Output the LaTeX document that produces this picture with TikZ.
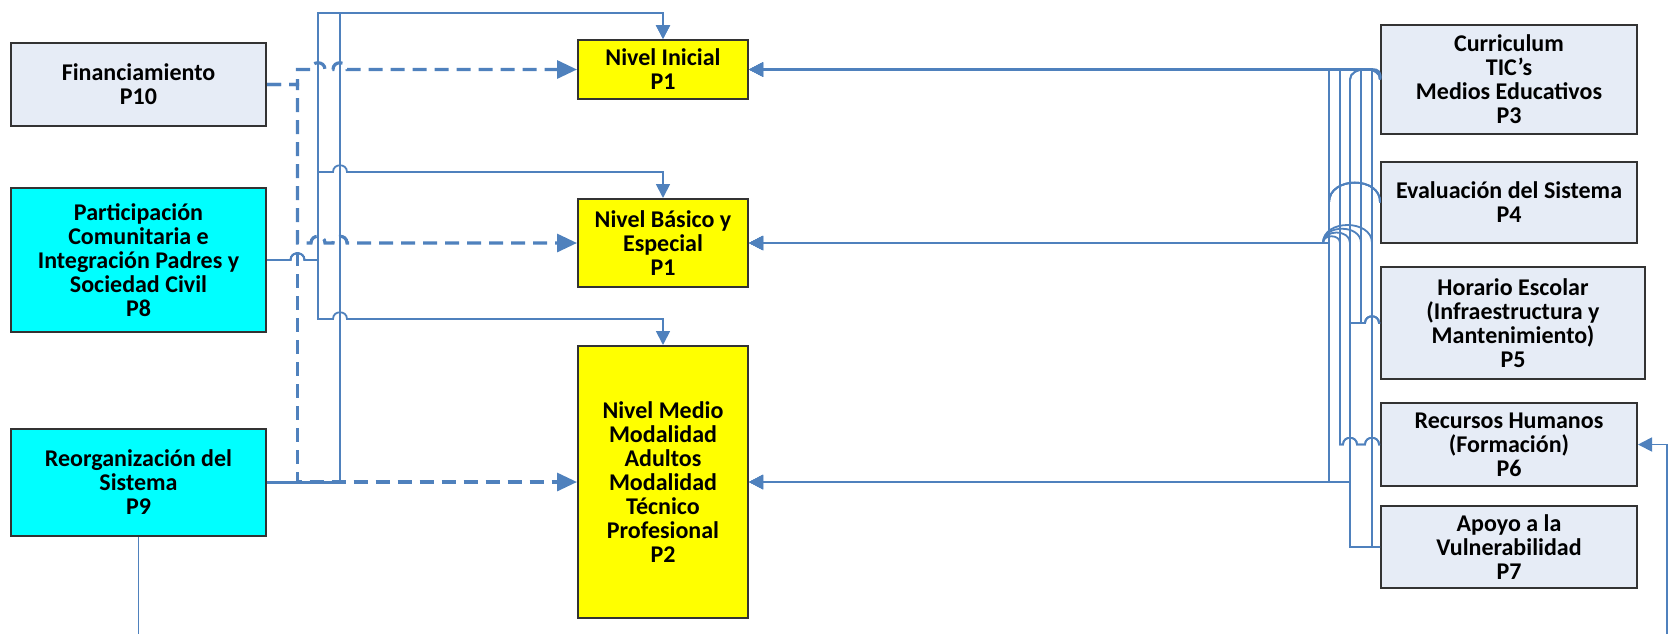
\documentclass[tikz,border=0pt]{standalone}
\usepackage{fontspec}
\setmainfont{Carlito}
\usetikzlibrary{arrows.meta}

\newcommand\hopR[2]{-- (#1-7,#2) .. controls (#1-7,#2-9) and (#1+7,#2-9) .. (#1+7,#2)}
\newcommand\hopL[2]{-- (#1+7,#2) .. controls (#1+7,#2-9) and (#1-7,#2-9) .. (#1-7,#2)}

\begin{document}
\begin{tikzpicture}[x=0.5pt,y=-0.5pt,
  box/.style={draw=black!80,line width=1pt,align=center,inner sep=0pt,
    font=\fontsize{12}{12}\selectfont\bfseries},
  greybox/.style={box,fill=boxgrey,minimum width=127.5pt},
  cyanbox/.style={box,fill=boxcyan,minimum width=127.5pt},
  yellowbox/.style={box,fill=boxyellow,minimum width=85pt},
  bus/.style={draw=linkblue,line width=0.9pt},
  link/.style={bus,-{Triangle[length=7pt,width=7pt]}},
  mainlink/.style={link,line width=1.4pt},
  dashlink/.style={draw=linkblue,line width=1.6pt,dash pattern=on 7pt off 4pt,
    -{Triangle[length=10pt,width=9pt]}}]
\definecolor{linkblue}{HTML}{4F81BD}
\definecolor{boxgrey}{HTML}{E6ECF6}
\definecolor{boxcyan}{HTML}{00FFFF}
\definecolor{boxyellow}{HTML}{FFFF00}
\useasboundingbox (0,0) rectangle (1672,634);

\node[greybox,minimum height=41.5pt] (fin) at (138.5,84.5) {Financiamiento\\P10};
\node[cyanbox,minimum height=72pt] (par) at (138.5,260) {Participación\\Comunitaria e\\Integración Padres y\\Sociedad Civil\\P8};
\node[cyanbox,minimum height=53.5pt] (reo) at (138.5,482.5) {Reorganización del\\Sistema\\P9};

\node[yellowbox,minimum height=29.5pt] (ini) at (663,69.5) {Nivel Inicial\\P1};
\node[yellowbox,minimum height=44pt] (bas) at (663,243) {Nivel Básico y\\Especial\\P1};
\node[yellowbox,minimum height=136pt] (med) at (663,482) {Nivel Medio\\Modalidad\\Adultos\\Modalidad\\Técnico\\Profesional\\P2};

\node[greybox,minimum width=128pt,minimum height=54.5pt] (cur) at (1509,79.5) {Curriculum\\TIC’s\\Medios Educativos\\P3};
\node[greybox,minimum width=128pt,minimum height=40.5pt] (eva) at (1509,202.5) {Evaluación del Sistema\\P4};
\node[greybox,minimum width=132pt,minimum height=56pt] (hor) at (1513,323) {Horario Escolar\\(Infraestructura y\\Mantenimiento)\\P5};
\node[greybox,minimum width=128pt,minimum height=41.5pt] (rec) at (1509,444.5) {Recursos Humanos\\(Formación)\\P6};
\node[greybox,minimum width=128pt,minimum height=41pt] (apo) at (1509,547) {Apoyo a la\\Vulnerabilidad\\P7};

\coordinate (cutL) at (138.5,634);
\coordinate (cutR) at (1667,634);

% left side
\draw[dashlink] (fin.east) -- (297.5,84.5) -- (297.5,69.5) \hopR{318}{69.5} \hopR{340}{69.5} -- (ini.west);
\draw[dashlink] (fin.east) -- (297.5,84.5) -- (297.5,243) \hopR{318}{243} \hopR{340}{243} -- (bas.west);
\draw[dashlink] (fin.east) -- (297.5,84.5) -- (297.5,482) -- (med.west);
\draw[link] (par.east) \hopR{297.5}{260} -- (318,260) -- (318,13) -| (ini.north);
\draw[link] (par.east) \hopR{297.5}{260} -- (318,260) -- (318,172) \hopR{340}{172} -| (bas.north);
\draw[link] (par.east) \hopR{297.5}{260} -- (318,260) -- (318,319) \hopR{340}{319} -| (med.north);
\draw[link,line width=1.2pt] (reo.east) -- (340,482.5) -- (340,13) -| (ini.north);
\draw[bus] (reo.south) -- (cutL);

% right side
\draw[mainlink] (cur.west) .. controls (1381,72) and (1378,69.5) .. (1372,69.5) -- (ini.east);
\draw[link] (cur.west) .. controls (1381,66) and (1350,66) .. (1350,79.5) |- (med.east);
\draw[link] (cur.west) .. controls (1381,66) and (1350,66) .. (1350,79.5) -- (1350,243) .. controls (1350,229) and (1323,229) .. (1323,243) -- (bas.east);
\draw[link] (eva.west) .. controls (1381,176) and (1329,176) .. (1329,202.5) |- (ini.east);
\draw[link] (eva.west) .. controls (1381,176) and (1329,176) .. (1329,202.5) |- (bas.east);
\draw[link] (eva.west) .. controls (1381,176) and (1329,176) .. (1329,202.5) |- (med.east);
\draw[link] (hor.west) \hopL{1372}{323} -- (1361,323) |- (ini.east);
\draw[link] (hor.west) \hopL{1372}{323} -- (1361,323) -- (1361,243) .. controls (1361,224) and (1323,224) .. (1323,243) -- (bas.east);
\draw[link] (hor.west) \hopL{1372}{323} -- (1350,323) |- (med.east);
\draw[link] (rec.west) \hopL{1372}{444.5} \hopL{1350}{444.5} -- (1340,444.5) |- (ini.east);
\draw[link] (rec.west) \hopL{1372}{444.5} \hopL{1350}{444.5} -- (1340,444.5) -- (1340,243) .. controls (1340,234) and (1323,234) .. (1323,243) -- (bas.east);
\draw[link] (apo.west) -- (1372,547) |- (ini.east);
\draw[link] (apo.west) -- (1372,547) -- (1372,243) .. controls (1372,219) and (1323,219) .. (1323,243) -- (bas.east);
\draw[mainlink] (apo.west) -- (1350,547) |- (med.east);
\draw[link] (cutR) |- (rec.east);
\end{tikzpicture}
\end{document}
